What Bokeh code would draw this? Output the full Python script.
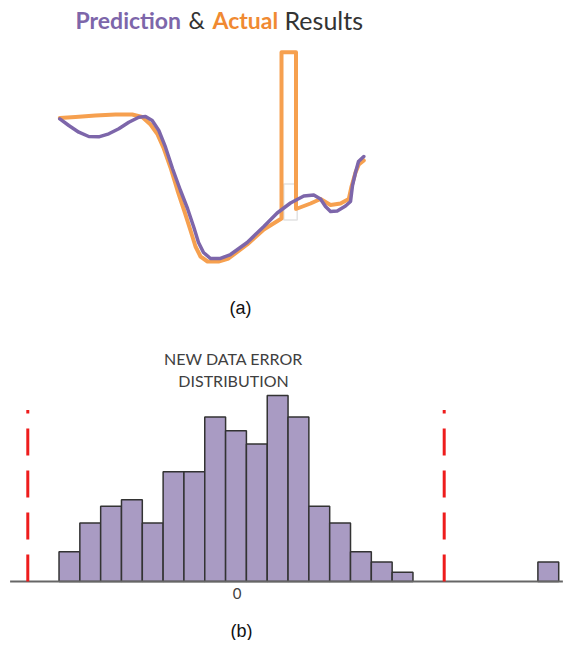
from bokeh.plotting import figure
from bokeh.layouts import column
from bokeh.models import Range1d, Label
from bokeh.embed import file_html
from bokeh.resources import INLINE

# ---- (a) prediction vs actual ----
pred_t = [0, 2.96, 6.25, 9.54, 12.83, 16.12, 19.41, 22.70, 25.99, 28.19, 30.39, 32.57, 34.77,
          37.07, 39.70, 42.01, 44.08, 45.63, 47.27, 49.57, 52.86, 56.15, 61.64, 67.11, 71.51,
          75.89, 80.26, 83.55, 85.76, 87.40, 89.05, 91.25, 93.98, 95.63, 96.28, 97.27, 98.26, 100]
pred_v = [67.95, 64.76, 61.57, 59.52, 59.38, 60.81, 63.19, 66.33, 68.71, 69.05, 67.14, 62.38,
          54.43, 44.29, 33.81, 25.24, 16.33, 9.05, 4.29, 1.43, 1.43, 3.33, 9.05, 16.67, 23.10,
          27.86, 31.19, 31.67, 29.76, 26.19, 23.81, 24.05, 26.43, 28.57, 36.19, 42.38, 47.62, 50.0]
act_t = [0, 5.16, 11.74, 18.32, 23.82, 27.11, 29.84, 32.04, 34.21, 36.41, 38.72, 41.02, 43.0,
         44.64, 46.28, 48.59, 52.20, 55.49, 61.64, 67.11, 72.93, 72.93, 77.70, 77.70, 82.47,
         85.76, 89.05, 92.34, 95.07, 95.96, 97.27, 98.36, 100]
act_v = [68.33, 68.81, 69.52, 70.0, 70.0, 68.81, 65.24, 60.81, 53.81, 44.76, 33.81, 23.81, 14.76,
         7.14, 2.38, 0.0, 0.0, 1.43, 8.10, 15.24, 20.48, 99.67, 99.67, 25.0, 27.62, 29.76,
         26.90, 27.62, 29.76, 35.71, 42.38, 46.19, 48.10]
box_t = [73.68, 78.09]
box_v = [19.76, 36.9]

# ---- (b) error distribution ----
bin_centers = [-8, -7, -6, -5, -4, -3, -2, -1, 0, 1, 2, 3, 4, 5, 6, 7, 8, 15]
bin_counts = [3.2, 6.3, 8.1, 8.8, 6.3, 11.8, 11.8, 17.7, 16.2, 14.8, 20.0, 17.7, 8.1, 6.3,
              3.2, 2.1, 1.0, 2.1]
limits = [-10, 10]
limit_top = 18.45
axis_span = [-10.85, 15.7]

PURPLE = "#7d66aa"
ORANGE = "#f6a04f"

pa = figure(width=564, height=330, output_backend="svg", toolbar_location=None,
            x_range=Range1d(-19.507, 166.02), y_range=Range1d(-32.86, 124.29),
            min_border=0)
pa.axis.visible = False
pa.grid.visible = False
pa.outline_line_color = None

pa.quad(left=[box_t[0]], right=[box_t[1]], bottom=[box_v[0]], top=[box_v[1]],
        fill_color=None, line_color="#e2e2e2", line_width=1.5)
pa.line(act_t, act_v, line_color=ORANGE, line_width=4, line_join="round", line_cap="round")
pa.line(pred_t, pred_v, line_color=PURPLE, line_width=3.5, line_join="round", line_cap="round")

title_parts = [("Prediction", 75, PURPLE, "bold", "23px"), ("&", 188, "#333333", "normal", "23px"),
               ("Actual", 212, "#f08a32", "bold", "23px"), ("Results", 284, "#333333", "normal", "25px")]
for txt, xs, col, st, fs in title_parts:
    pa.add_layout(Label(x=xs, y=311, x_units="screen", y_units="screen", text=txt,
                        text_font="Lato", text_font_size=fs, text_color=col,
                        text_font_style=st, text_baseline="alphabetic", text_align="left"))
pa.add_layout(Label(x=240, y=23, x_units="screen", y_units="screen", text="(a)",
                    text_font="Liberation Sans", text_font_size="18px", text_color="#111111",
                    text_align="center", text_baseline="middle"))

pb = figure(width=564, height=310, output_backend="svg", toolbar_location=None,
            x_range=Range1d(-11.311, 15.778), y_range=Range1d(-6.34, 26.99),
            min_border=0)
pb.axis.visible = False
pb.grid.visible = False
pb.outline_line_color = None

pb.quad(left=[c - 0.5 for c in bin_centers], right=[c + 0.5 for c in bin_centers],
        bottom=0, top=bin_counts, fill_color="#a99bc3", line_color="#333333", line_width=1.5)
pb.segment(x0=[axis_span[0]], y0=[0], x1=[axis_span[1]], y1=[0],
           line_color="#666666", line_width=2)
pb.segment(x0=limits, y0=[0, 0], x1=limits, y1=[limit_top] * 2,
           line_color="#ee1c1c", line_width=3, line_dash="27 15")

for txt, yy in [("NEW DATA ERROR", 282), ("DISTRIBUTION", 260)]:
    pb.add_layout(Label(x=233, y=yy, x_units="screen", y_units="screen", text=txt,
                        text_font="Lato", text_font_size="16px", text_color="#404040",
                        text_align="center", text_baseline="middle"))
pb.add_layout(Label(x=236.5, y=47, x_units="screen", y_units="screen", text="0",
                    text_font="Lato", text_font_size="15px", text_color="#404040",
                    text_align="center", text_baseline="middle"))
pb.add_layout(Label(x=241, y=10, x_units="screen", y_units="screen", text="(b)",
                    text_font="Liberation Sans", text_font_size="18px", text_color="#111111",
                    text_align="center", text_baseline="middle"))

layout = column(pa, pb, spacing=0)
open("out.html", "w").write(file_html(layout, INLINE))
